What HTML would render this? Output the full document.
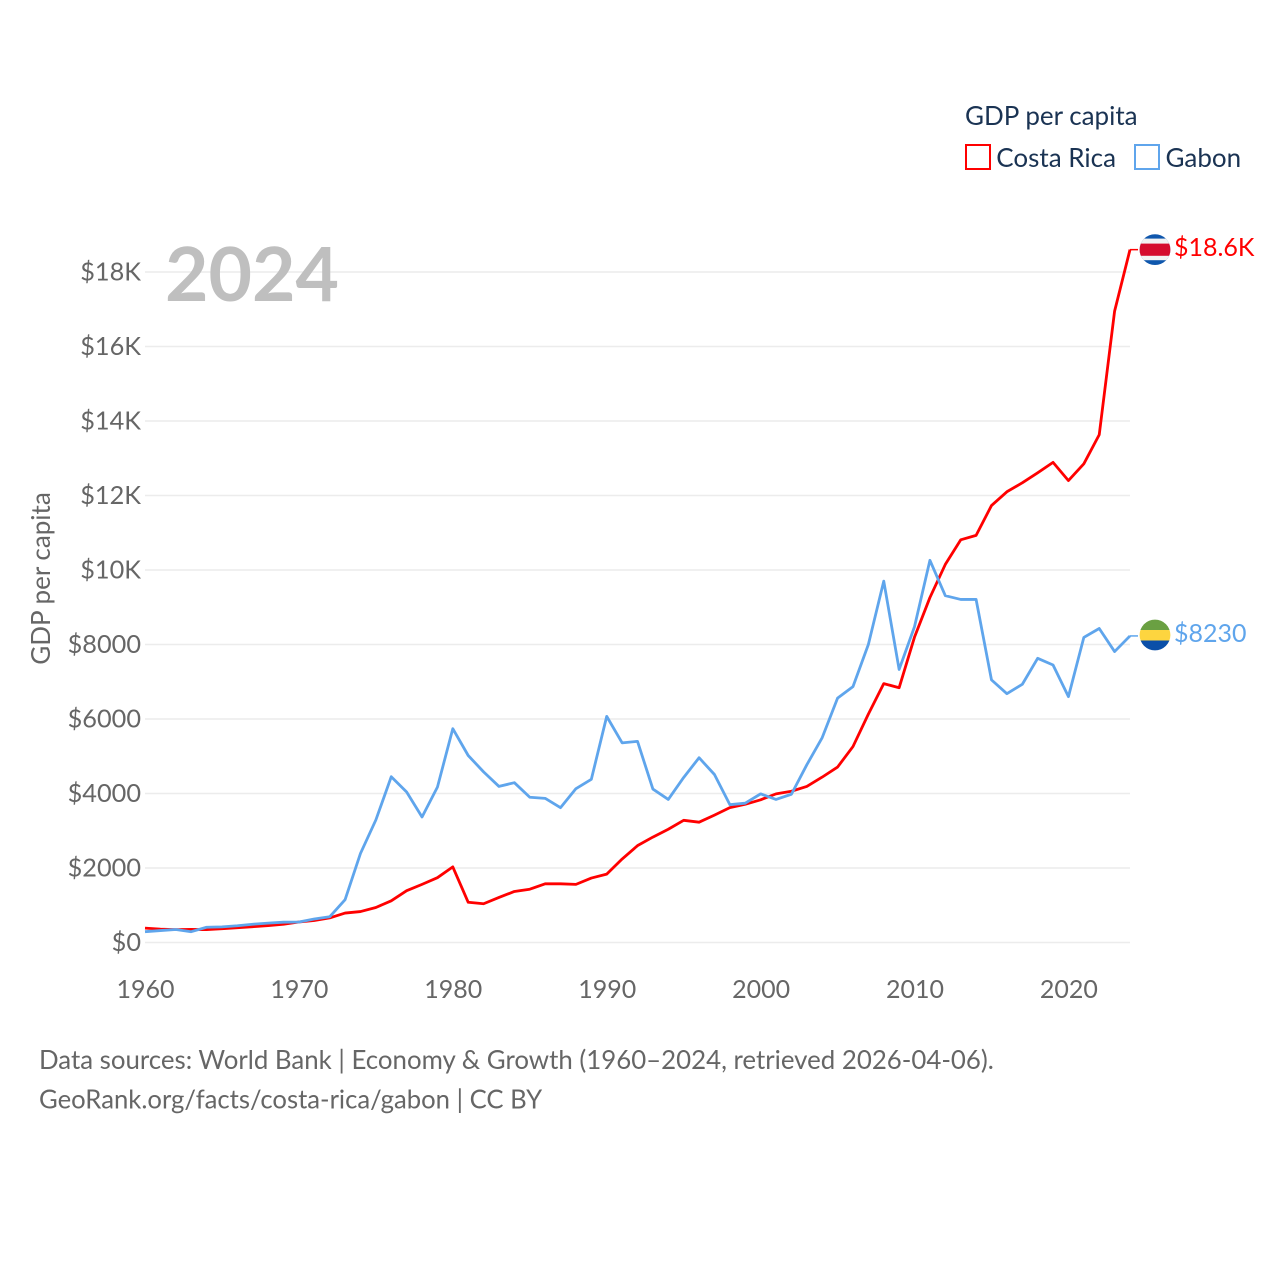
<!DOCTYPE html>
<html lang="en">
<head>
<meta charset="utf-8">
<title>GDP per capita: Costa Rica and Gabon</title>
<style>
html,body{margin:0;padding:0;background:#fff;width:1280px;height:1280px;overflow:hidden}
svg{display:block}
text{font-family:"Lato","Carlito","Liberation Sans",sans-serif}
</style>
</head>
<body>
<svg id="chart" xmlns="http://www.w3.org/2000/svg" width="1280" height="1280" viewBox="0 0 1280 1280">
<defs>
<clipPath id="flag-cr-clip"><circle cx="1155" cy="249.6" r="15.4"/></clipPath>
</defs>
<g id="grid"></g>
<text x="165" y="301" font-size="75" font-weight="700" fill="#bfbfbf">2024</text>
<g id="yticks"></g>
<g id="xticks"></g>
<text transform="translate(50,578.500) rotate(-90)" text-anchor="middle" font-size="26" fill="#666">GDP per capita</text>
<g id="series"></g>
<g clip-path="url(#flag-cr-clip)">
<rect x="1139" y="234" width="32" height="32" fill="#0f57ad"/>
<rect x="1139" y="238.600" width="32" height="21.600" fill="#f2f2f2"/>
<rect x="1139" y="243.600" width="32" height="12.200" fill="#d50c2d"/>
</g>
<g id="gabon-flag"></g>
<text id="label-cr" x="1174" y="256" font-size="25" fill="#ff0000">$18.6K</text>
<text id="label-ga" x="1174" y="642" font-size="25" fill="#5fa5ec">$8230</text>
<text x="965" y="125" font-size="26" fill="#1a3353">GDP per capita</text>
<g>
<rect x="966" y="145" width="24" height="24" fill="#fff" stroke="#ff0000" stroke-width="2"/>
<text x="996.300" y="167" font-size="26" fill="#1a3353">Costa Rica</text>
</g>
<g>
<rect x="1135" y="145" width="24" height="24" fill="#fff" stroke="#5fa5ec" stroke-width="2"/>
<text x="1165.500" y="167" font-size="26" fill="#1a3353">Gabon</text>
</g>
<text x="39" y="1069" font-size="25.83" fill="#666">Data sources: World Bank | Economy &amp; Growth (1960–2024, retrieved 2026-04-06).</text>
<text x="39" y="1108.500" font-size="25.68" fill="#666">GeoRank.org/facts/costa-rica/gabon | CC BY</text>
</svg>
<script>
const startYear = 1960;
const costaRica = [385,360,345,350,345,370,395,425,455,490,550,590,660,790,830,940,1120,1390,1560,1740,2030,1080,1040,1210,1370,1430,1575,1575,1560,1730,1835,2240,2600,2830,3040,3280,3230,3420,3620,3710,3830,3990,4060,4190,4440,4710,5260,6130,6950,6840,8200,9260,10150,10810,10930,11730,12100,12340,12610,12890,12400,12850,13630,16950,18600];
const gabon = [290,320,350,290,410,420,450,490,520,545,550,630,690,1150,2390,3290,4450,4040,3370,4170,5740,5020,4580,4190,4290,3900,3870,3620,4130,4380,6070,5360,5400,4120,3840,4430,4960,4510,3700,3740,3990,3840,3980,4770,5500,6560,6870,8000,9700,7330,8480,10260,9310,9210,9210,7050,6680,6930,7630,7450,6600,8190,8430,7810,8230];
const yTickValues = [0,2000,4000,6000,8000,10000,12000,14000,16000,18000];
const yTickLabels = ['$0','$2000','$4000','$6000','$8000','$10K','$12K','$14K','$16K','$18K'];
const xTickYears = [1960,1970,1980,1990,2000,2010,2020];

const NS = 'http://www.w3.org/2000/svg';
function xScale(year){ return 145 + (year - 1960) * (1130 - 145) / 64; }
function yScale(v){ return 942.5 - v * (942.5 - 272) / 18000; }
function make(tag, attrs, parent){
  const el = document.createElementNS(NS, tag);
  for (const k in attrs) el.setAttribute(k, attrs[k]);
  parent.appendChild(el);
  return el;
}
const grid = document.getElementById('grid');
const yticks = document.getElementById('yticks');
const xticks = document.getElementById('xticks');
const seriesG = document.getElementById('series');

yTickValues.forEach(function(v, i){
  const line = make('line', {x1:145, x2:1130, y1:yScale(v), y2:yScale(v), stroke:'#ececec', 'stroke-width':1.5}, grid);
  
  
  const t = make('text', {x:141, y:yScale(v)+8.6, 'text-anchor':'end', 'font-size':25.3, fill:'#666'}, yticks);
  t.textContent = yTickLabels[i];
  
  
});
xTickYears.forEach(function(y){
  const t = make('text', {x:xScale(y) + 0.5, y:998, 'text-anchor':'middle', 'font-size':25, fill:'#666'}, xticks);
  t.textContent = y;
  
  
});
function drawSeries(values, color, name){
  const pts = values.map(function(v, i){ return xScale(startYear + i).toFixed(2) + ',' + yScale(v).toFixed(2); });
  const p = make('polyline', {points:pts.join(' '), fill:'none', stroke:color, 'stroke-width':2.8, 'stroke-linejoin':'round'}, seriesG);
  
  
  const last = values[values.length - 1];
  const c = make('line', {x1:xScale(startYear + values.length - 1), x2:1138, y1:yScale(last), y2:yScale(last), stroke:color, 'stroke-width':1.5}, seriesG);
  
  
}
drawSeries(costaRica, '#ff0000', 'costa-rica-line');
drawSeries(gabon, '#5fa5ec', 'gabon-line');

const gf = document.getElementById('gabon-flag');
const cid = make('clipPath', {id:'flag-ga-clip'}, gf);
make('circle', {cx:1155, cy:635, r:15.4}, cid);
const gInner = make('g', {'clip-path':'url(#flag-ga-clip)'}, gf);
make('rect', {x:1139, y:619, width:32, height:11, fill:'#6aa042'}, gInner);
make('rect', {x:1139, y:630, width:32, height:10.5, fill:'#fdd53f'}, gInner);
make('rect', {x:1139, y:640.5, width:32, height:11, fill:'#0b4fa8'}, gInner);
</script>
</body>
</html>
